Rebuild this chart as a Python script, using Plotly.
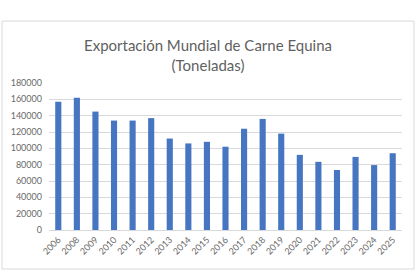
import plotly.graph_objects as go

years = ["2006", "2008", "2009", "2010", "2011", "2012", "2013", "2014", "2015", "2016",
         "2017", "2018", "2019", "2020", "2021", "2022", "2023", "2024", "2025"]
toneladas = [157000, 162000, 145000, 134000, 134000, 137000, 112000, 106000, 108000, 102000,
             124000, 136000, 118000, 92000, 83500, 73500, 89500, 79500, 94000]
y_ticks = [0, 20000, 40000, 60000, 80000, 100000, 120000, 140000, 160000, 180000]

W, H = 420, 280
ML, MR, MT, MB = 49, 18, 83, 50
pw, ph = W - ML - MR, H - MT - MB

def px(x):
    return (x - ML) / pw

def py(y):
    return (H - MB - y) / ph

fig = go.Figure()
fig.add_trace(go.Bar(x=years, y=toneladas, marker=dict(color="#4676C2", line=dict(width=0))))

fig.update_layout(
    width=W, height=H,
    margin=dict(l=ML, r=MR, t=MT, b=MB),
    paper_bgcolor="white", plot_bgcolor="white",
    bargap=0.67,
    showlegend=False,
    font=dict(family="Lato, Open Sans, sans-serif", color="#666666"),
    title=dict(
        text="Exportación Mundial de Carne Equina<br>(Toneladas)",
        x=208 / W, xanchor="center", xref="container",
        y=1 - 51 / H, yanchor="middle", yref="container",
        font=dict(size=15, color="#5f5f5f", family="Lato, Open Sans, sans-serif"),
    ),
    xaxis=dict(
        type="category", tickangle=-45, tickfont=dict(size=9, color="#6a6a6a"),
        showline=True, linecolor="#d9d9d9", linewidth=1, ticks="", showgrid=False,
    ),
    yaxis=dict(
        range=[0, 180000], tickvals=y_ticks, ticktext=[str(v) for v in y_ticks],
        tickfont=dict(size=9, color="#6a6a6a"), showgrid=True, gridcolor="#d9d9d9",
        gridwidth=1, zeroline=False, showline=False, ticks="", ticklabelstandoff=6,
    ),
    shapes=[dict(
        type="rect", xref="paper", yref="paper",
        x0=px(2), x1=px(414), y0=py(269), y1=py(21),
        line=dict(color="#d9d9d9", width=1), fillcolor="rgba(0,0,0,0)", layer="below",
    )],
)

fig.write_html("out.html")
